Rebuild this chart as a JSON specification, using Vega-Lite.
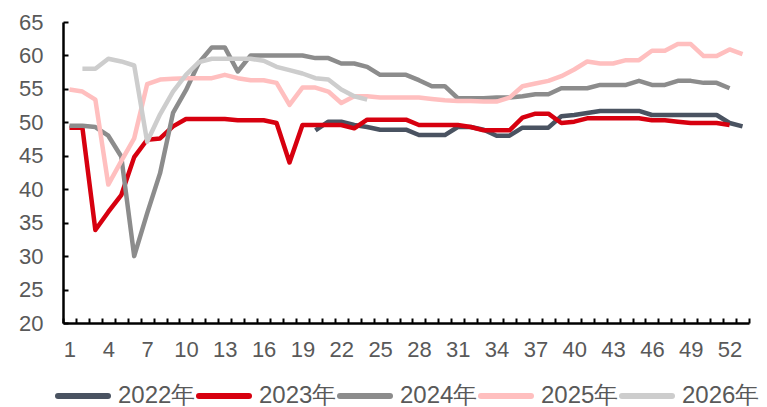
{
"$schema":"https://vega.github.io/schema/vega-lite/v6.json",
"width":686,"height":301,
"autosize":{"type":"none"},
"padding":{"left":63,"top":22,"right":18,"bottom":84},
"config":{"font":"Liberation Sans","view":{"stroke":null}},
"data":{"values":[
{"w":20,"s":"2022年","v":48.8},{"w":21,"s":"2022年","v":50.1},{"w":22,"s":"2022年","v":50.1},{"w":23,"s":"2022年","v":49.6},{"w":24,"s":"2022年","v":49.3},{"w":25,"s":"2022年","v":48.9},{"w":26,"s":"2022年","v":48.9},{"w":27,"s":"2022年","v":48.9},{"w":28,"s":"2022年","v":48.1},{"w":29,"s":"2022年","v":48.1},{"w":30,"s":"2022年","v":48.1},{"w":31,"s":"2022年","v":49.3},{"w":32,"s":"2022年","v":49.3},{"w":33,"s":"2022年","v":48.9},{"w":34,"s":"2022年","v":48.0},{"w":35,"s":"2022年","v":48.0},{"w":36,"s":"2022年","v":49.2},{"w":37,"s":"2022年","v":49.2},{"w":38,"s":"2022年","v":49.2},{"w":39,"s":"2022年","v":50.9},{"w":40,"s":"2022年","v":51.1},{"w":41,"s":"2022年","v":51.4},{"w":42,"s":"2022年","v":51.7},{"w":43,"s":"2022年","v":51.7},{"w":44,"s":"2022年","v":51.7},{"w":45,"s":"2022年","v":51.7},{"w":46,"s":"2022年","v":51.1},{"w":47,"s":"2022年","v":51.1},{"w":48,"s":"2022年","v":51.1},{"w":49,"s":"2022年","v":51.1},{"w":50,"s":"2022年","v":51.1},{"w":51,"s":"2022年","v":51.1},{"w":52,"s":"2022年","v":49.9},{"w":53,"s":"2022年","v":49.4},
{"w":1,"s":"2023年","v":49.2},{"w":2,"s":"2023年","v":49.2},{"w":3,"s":"2023年","v":33.9},{"w":4,"s":"2023年","v":36.6},{"w":5,"s":"2023年","v":39.1},{"w":6,"s":"2023年","v":44.8},{"w":7,"s":"2023年","v":47.4},{"w":8,"s":"2023年","v":47.6},{"w":9,"s":"2023年","v":49.4},{"w":10,"s":"2023年","v":50.5},{"w":11,"s":"2023年","v":50.5},{"w":12,"s":"2023年","v":50.5},{"w":13,"s":"2023年","v":50.5},{"w":14,"s":"2023年","v":50.3},{"w":15,"s":"2023年","v":50.3},{"w":16,"s":"2023年","v":50.3},{"w":17,"s":"2023年","v":49.9},{"w":18,"s":"2023年","v":44.0},{"w":19,"s":"2023年","v":49.6},{"w":20,"s":"2023年","v":49.6},{"w":21,"s":"2023年","v":49.6},{"w":22,"s":"2023年","v":49.6},{"w":23,"s":"2023年","v":49.1},{"w":24,"s":"2023年","v":50.4},{"w":25,"s":"2023年","v":50.4},{"w":26,"s":"2023年","v":50.4},{"w":27,"s":"2023年","v":50.4},{"w":28,"s":"2023年","v":49.6},{"w":29,"s":"2023年","v":49.6},{"w":30,"s":"2023年","v":49.6},{"w":31,"s":"2023年","v":49.6},{"w":32,"s":"2023年","v":49.3},{"w":33,"s":"2023年","v":48.8},{"w":34,"s":"2023年","v":48.8},{"w":35,"s":"2023年","v":48.8},{"w":36,"s":"2023年","v":50.7},{"w":37,"s":"2023年","v":51.3},{"w":38,"s":"2023年","v":51.3},{"w":39,"s":"2023年","v":49.9},{"w":40,"s":"2023年","v":50.1},{"w":41,"s":"2023年","v":50.6},{"w":42,"s":"2023年","v":50.6},{"w":43,"s":"2023年","v":50.6},{"w":44,"s":"2023年","v":50.6},{"w":45,"s":"2023年","v":50.6},{"w":46,"s":"2023年","v":50.3},{"w":47,"s":"2023年","v":50.3},{"w":48,"s":"2023年","v":50.1},{"w":49,"s":"2023年","v":49.9},{"w":50,"s":"2023年","v":49.9},{"w":51,"s":"2023年","v":49.9},{"w":52,"s":"2023年","v":49.6},
{"w":1,"s":"2024年","v":49.5},{"w":2,"s":"2024年","v":49.5},{"w":3,"s":"2024年","v":49.3},{"w":4,"s":"2024年","v":48.0},{"w":5,"s":"2024年","v":44.9},{"w":6,"s":"2024年","v":30.0},{"w":7,"s":"2024年","v":36.4},{"w":8,"s":"2024年","v":42.4},{"w":9,"s":"2024年","v":51.4},{"w":10,"s":"2024年","v":54.8},{"w":11,"s":"2024年","v":58.9},{"w":12,"s":"2024年","v":61.2},{"w":13,"s":"2024年","v":61.2},{"w":14,"s":"2024年","v":57.6},{"w":15,"s":"2024年","v":60.0},{"w":16,"s":"2024年","v":60.0},{"w":17,"s":"2024年","v":60.0},{"w":18,"s":"2024年","v":60.0},{"w":19,"s":"2024年","v":60.0},{"w":20,"s":"2024年","v":59.6},{"w":21,"s":"2024年","v":59.6},{"w":22,"s":"2024年","v":58.8},{"w":23,"s":"2024年","v":58.8},{"w":24,"s":"2024年","v":58.3},{"w":25,"s":"2024年","v":57.1},{"w":26,"s":"2024年","v":57.1},{"w":27,"s":"2024年","v":57.1},{"w":28,"s":"2024年","v":56.3},{"w":29,"s":"2024年","v":55.4},{"w":30,"s":"2024年","v":55.4},{"w":31,"s":"2024年","v":53.6},{"w":32,"s":"2024年","v":53.6},{"w":33,"s":"2024年","v":53.6},{"w":34,"s":"2024年","v":53.7},{"w":35,"s":"2024年","v":53.7},{"w":36,"s":"2024年","v":53.9},{"w":37,"s":"2024年","v":54.2},{"w":38,"s":"2024年","v":54.2},{"w":39,"s":"2024年","v":55.1},{"w":40,"s":"2024年","v":55.1},{"w":41,"s":"2024年","v":55.1},{"w":42,"s":"2024年","v":55.6},{"w":43,"s":"2024年","v":55.6},{"w":44,"s":"2024年","v":55.6},{"w":45,"s":"2024年","v":56.2},{"w":46,"s":"2024年","v":55.6},{"w":47,"s":"2024年","v":55.6},{"w":48,"s":"2024年","v":56.2},{"w":49,"s":"2024年","v":56.2},{"w":50,"s":"2024年","v":55.9},{"w":51,"s":"2024年","v":55.9},{"w":52,"s":"2024年","v":55.1},
{"w":1,"s":"2025年","v":54.9},{"w":2,"s":"2025年","v":54.6},{"w":3,"s":"2025年","v":53.4},{"w":4,"s":"2025年","v":40.7},{"w":5,"s":"2025年","v":44.2},{"w":6,"s":"2025年","v":47.6},{"w":7,"s":"2025年","v":55.7},{"w":8,"s":"2025年","v":56.4},{"w":9,"s":"2025年","v":56.5},{"w":10,"s":"2025年","v":56.6},{"w":11,"s":"2025年","v":56.6},{"w":12,"s":"2025年","v":56.6},{"w":13,"s":"2025年","v":57.1},{"w":14,"s":"2025年","v":56.6},{"w":15,"s":"2025年","v":56.3},{"w":16,"s":"2025年","v":56.3},{"w":17,"s":"2025年","v":55.9},{"w":18,"s":"2025年","v":52.6},{"w":19,"s":"2025年","v":55.2},{"w":20,"s":"2025年","v":55.2},{"w":21,"s":"2025年","v":54.6},{"w":22,"s":"2025年","v":52.9},{"w":23,"s":"2025年","v":53.9},{"w":24,"s":"2025年","v":53.9},{"w":25,"s":"2025年","v":53.7},{"w":26,"s":"2025年","v":53.7},{"w":27,"s":"2025年","v":53.7},{"w":28,"s":"2025年","v":53.7},{"w":29,"s":"2025年","v":53.5},{"w":30,"s":"2025年","v":53.3},{"w":31,"s":"2025年","v":53.2},{"w":32,"s":"2025年","v":53.2},{"w":33,"s":"2025年","v":53.1},{"w":34,"s":"2025年","v":53.1},{"w":35,"s":"2025年","v":53.7},{"w":36,"s":"2025年","v":55.4},{"w":37,"s":"2025年","v":55.8},{"w":38,"s":"2025年","v":56.2},{"w":39,"s":"2025年","v":56.9},{"w":40,"s":"2025年","v":57.9},{"w":41,"s":"2025年","v":59.1},{"w":42,"s":"2025年","v":58.8},{"w":43,"s":"2025年","v":58.8},{"w":44,"s":"2025年","v":59.3},{"w":45,"s":"2025年","v":59.3},{"w":46,"s":"2025年","v":60.7},{"w":47,"s":"2025年","v":60.7},{"w":48,"s":"2025年","v":61.7},{"w":49,"s":"2025年","v":61.7},{"w":50,"s":"2025年","v":59.9},{"w":51,"s":"2025年","v":59.9},{"w":52,"s":"2025年","v":60.9},{"w":53,"s":"2025年","v":60.2},
{"w":2,"s":"2026年","v":58.0},{"w":3,"s":"2026年","v":58.0},{"w":4,"s":"2026年","v":59.5},{"w":5,"s":"2026年","v":59.1},{"w":6,"s":"2026年","v":58.5},{"w":7,"s":"2026年","v":47.1},{"w":8,"s":"2026年","v":51.2},{"w":9,"s":"2026年","v":54.6},{"w":10,"s":"2026年","v":57.1},{"w":11,"s":"2026年","v":59.0},{"w":12,"s":"2026年","v":59.5},{"w":13,"s":"2026年","v":59.5},{"w":14,"s":"2026年","v":59.5},{"w":15,"s":"2026年","v":59.5},{"w":16,"s":"2026年","v":59.2},{"w":17,"s":"2026年","v":58.3},{"w":18,"s":"2026年","v":57.8},{"w":19,"s":"2026年","v":57.3},{"w":20,"s":"2026年","v":56.6},{"w":21,"s":"2026年","v":56.4},{"w":22,"s":"2026年","v":54.9},{"w":23,"s":"2026年","v":53.9},{"w":24,"s":"2026年","v":53.4}
]},
"mark":{"type":"line","strokeWidth":4.5,"strokeJoin":"round"},
"encoding":{
"x":{"field":"w","type":"quantitative","scale":{"domain":[0.5,53.5],"nice":false,"zero":false},
"axis":{"title":null,"grid":false,"values":[0.5,1.5,2.5,3.5,4.5,5.5,6.5,7.5,8.5,9.5,10.5,11.5,12.5,13.5,14.5,15.5,16.5,17.5,18.5,19.5,20.5,21.5,22.5,23.5,24.5,25.5,26.5,27.5,28.5,29.5,30.5,31.5,32.5,33.5,34.5,35.5,36.5,37.5,38.5,39.5,40.5,41.5,42.5,43.5,44.5,45.5,46.5,47.5,48.5,49.5,50.5,51.5,52.5,53.5],
"labelExpr":"(datum.value - 0.5) % 3 == 0 && datum.value < 53 ? format(datum.value + 0.5, 'd') : ''",
"labelOffset":6.47,"labelOverlap":false,"labelBound":false,"labelFlush":false,
"domainColor":"#000","domainWidth":2.5,"tickColor":"#000","tickWidth":2,"tickSize":-5,"labelPadding":21,
"labelFontSize":22,"labelColor":"#595959","labelFont":"Liberation Sans"}},
"y":{"field":"v","type":"quantitative","scale":{"domain":[20,65],"nice":false,"zero":false},
"axis":{"title":null,"grid":false,"values":[20,25,30,35,40,45,50,55,60,65],"labelOverlap":false,"labelBound":false,"labelFlush":false,
"domainColor":"#000","domainWidth":2.5,"tickColor":"#000","tickWidth":2,"tickSize":-5,"labelPadding":25,
"labelFontSize":22,"labelColor":"#595959","labelFont":"Liberation Sans"}},
"color":{"field":"s","type":"nominal","scale":{"domain":["2022年","2023年","2024年","2025年","2026年"],"range":["#4a5361","#d7000f","#8c8c8c","#ffbfbf","#cdcdcd"]},
"legend":{"title":null,"orient":"none","direction":"horizontal","legendX":-8,"legendY":346,"symbolType":"stroke","symbolSize":2500,"symbolStrokeWidth":6,"labelFontSize":24,"labelColor":"#595959","labelFont":"Liberation Sans","labelOffset":7,"columnPadding":-11,
"encode":{"symbols":{"update":{"strokeCap":{"value":"round"}}}}}}
}
}
